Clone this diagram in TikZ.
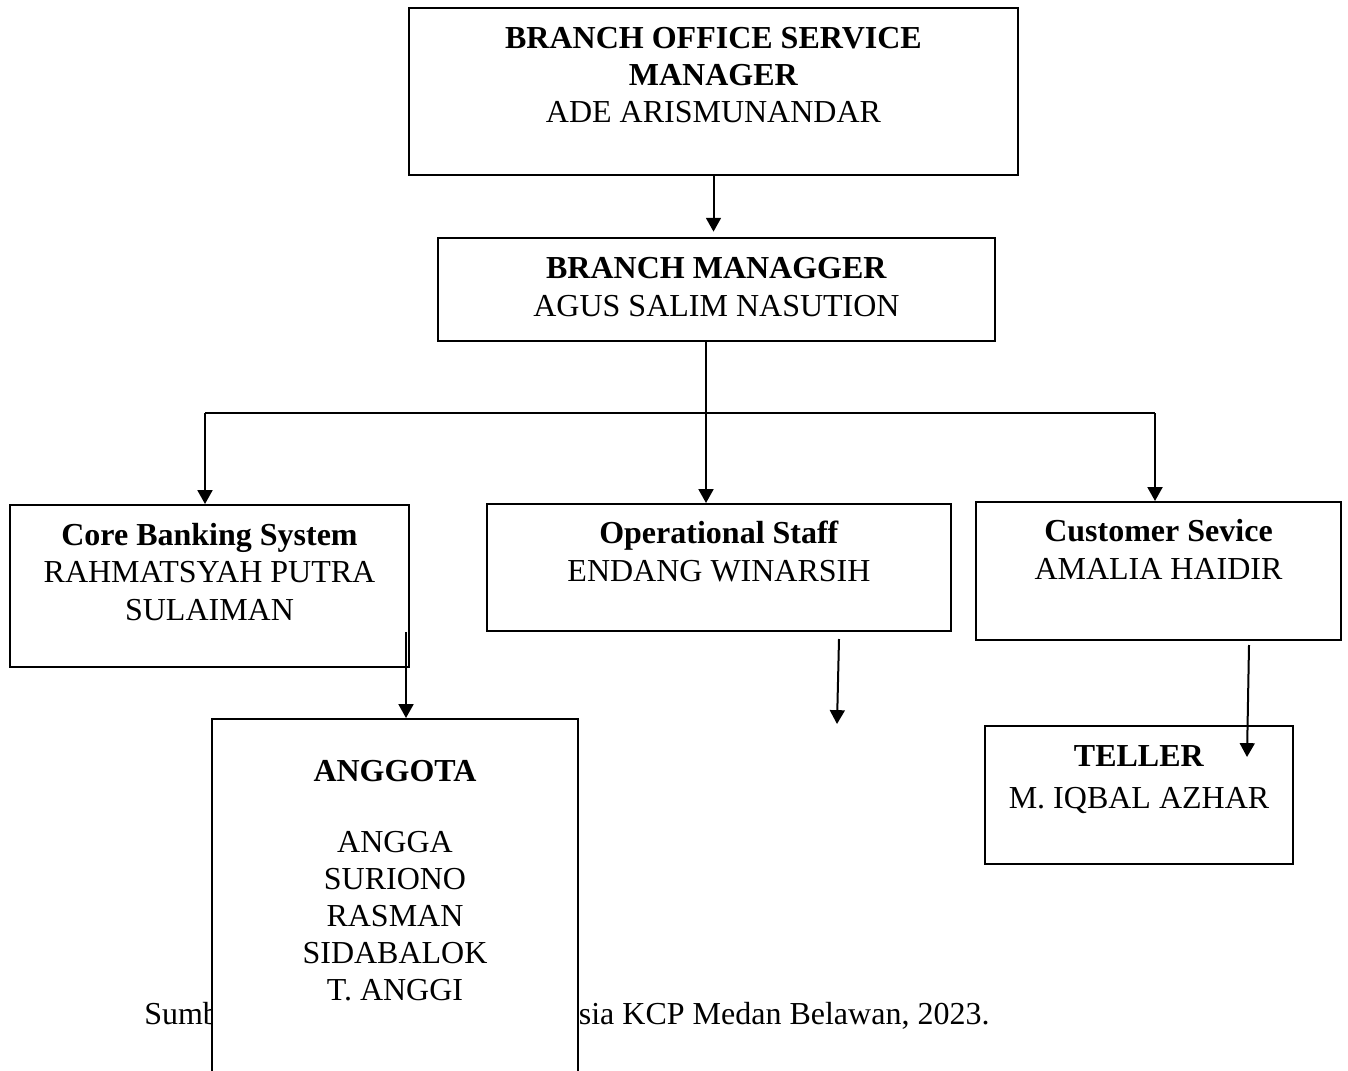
\documentclass[tikz,border=0pt]{standalone}
\usepackage{fontspec}
\setmainfont{Liberation Serif}
\usetikzlibrary{arrows.meta,calc}

\begin{document}
\begin{tikzpicture}[x=0.375pt,y=-0.375pt,
        box/.style={draw, line width=0.75pt, fill=white, inner sep=0pt},
        boxsize/.style 2 args={minimum width=#1*0.375pt, minimum height=#2*0.375pt},
        txt/.style={align=center, inner sep=0pt, anchor=base,
            font=\fontsize{12pt}{14pt}\selectfont},
        arr/.style={line width=0.75pt, -{Triangle[length=5.2pt,width=5.6pt]}},
        link/.style={line width=0.75pt}]
        \useasboundingbox (0,0) rectangle (1348,1070);

        % sumber (tertutup kotak anggota)
        \node[txt, anchor=base east] (sumber) at (990,1024)
            {Sumber: PT Bank Syariah Indonesia KCP Medan Belawan, 2023.};

        % kotak
        \node[box, boxsize={609}{167}] (bosm) at (713.5,91.5) {};
        \node[box, boxsize={557}{103}] (bm) at (716.5,289.5) {};
        \node[box, boxsize={399}{162}] (cbs) at (209.5,586) {};
        \node[box, boxsize={464}{127}] (ops) at (719,567.5) {};
        \node[box, boxsize={365}{138}] (cs) at (1158.5,571) {};
        \node[box, boxsize={308}{138}] (teller) at (1139,795) {};
        \node[box, boxsize={366}{361}] (anggota) at (395,899.5) {};

        % isi kotak (base = baris terakhir)
        \node[txt] (bosmtxt) at ($(bosm.north)+(0,116)$)
            {\textbf{BRANCH OFFICE SERVICE}\\ \textbf{MANAGER}\\ ADE ARISMUNANDAR};
        \node[txt] (bmtxt) at ($(bm.north)+(0,79)$)
            {\textbf{BRANCH MANAGGER}\\ AGUS SALIM NASUTION};
        \node[txt] (cbstxt) at ($(cbs.north)+(0,116)$)
            {\textbf{Core Banking System}\\ RAHMATSYAH PUTRA\\ SULAIMAN};
        \node[txt] (opstxt) at ($(ops.north)+(0,78)$)
            {\textbf{Operational Staff}\\ ENDANG WINARSIH};
        \node[txt] (cstxt) at ($(cs.north)+(0,78)$)
            {\textbf{Customer Sevice}\\ AMALIA HAIDIR};
        \node[txt] (tellertxt) at ($(teller.north)+(0,83)$)
            {\textbf{TELLER}\\[1.5pt] M. IQBAL AZHAR};
        \node[txt, font=\fontsize{12pt}{13.8pt}\selectfont] (anggotatxt) at ($(anggota.north)+(0,282)$)
            {\textbf{ANGGOTA}\\[13pt] ANGGA\\ SURIONO\\ RASMAN\\ SIDABALOK\\ T. ANGGI};

        % garis cabang
        \coordinate (jl) at (205,413);
        \coordinate (jm) at (706,413);
        \coordinate (jr) at (1155,413);
        \draw[arr, shorten >=2pt] (bosm.south) -- (bosm.south |- bm.north);
        \draw[link] (bm.south -| jm) -- (jm);
        \draw[link] (jl) -- (jr);
        \draw[arr] (jl) -- (jl |- cbs.north);
        \draw[arr] (jm) -- (jm |- ops.north);
        \draw[arr] (jr) -- (jr |- cs.north);

        % panah bawah
        \coordinate (cbsout) at (406,632);
        \coordinate (opsout) at (839,639);
        \coordinate (opsend) at (837,724);
        \coordinate (csout) at (1249,645);
        \coordinate (csend) at (1247,757);
        \draw[arr] (cbsout) -- (cbsout |- anggota.north);
        \draw[arr] (opsout) -- (opsend);
        \draw[arr] (csout) -- (csend);

    \end{tikzpicture}
\end{document}
